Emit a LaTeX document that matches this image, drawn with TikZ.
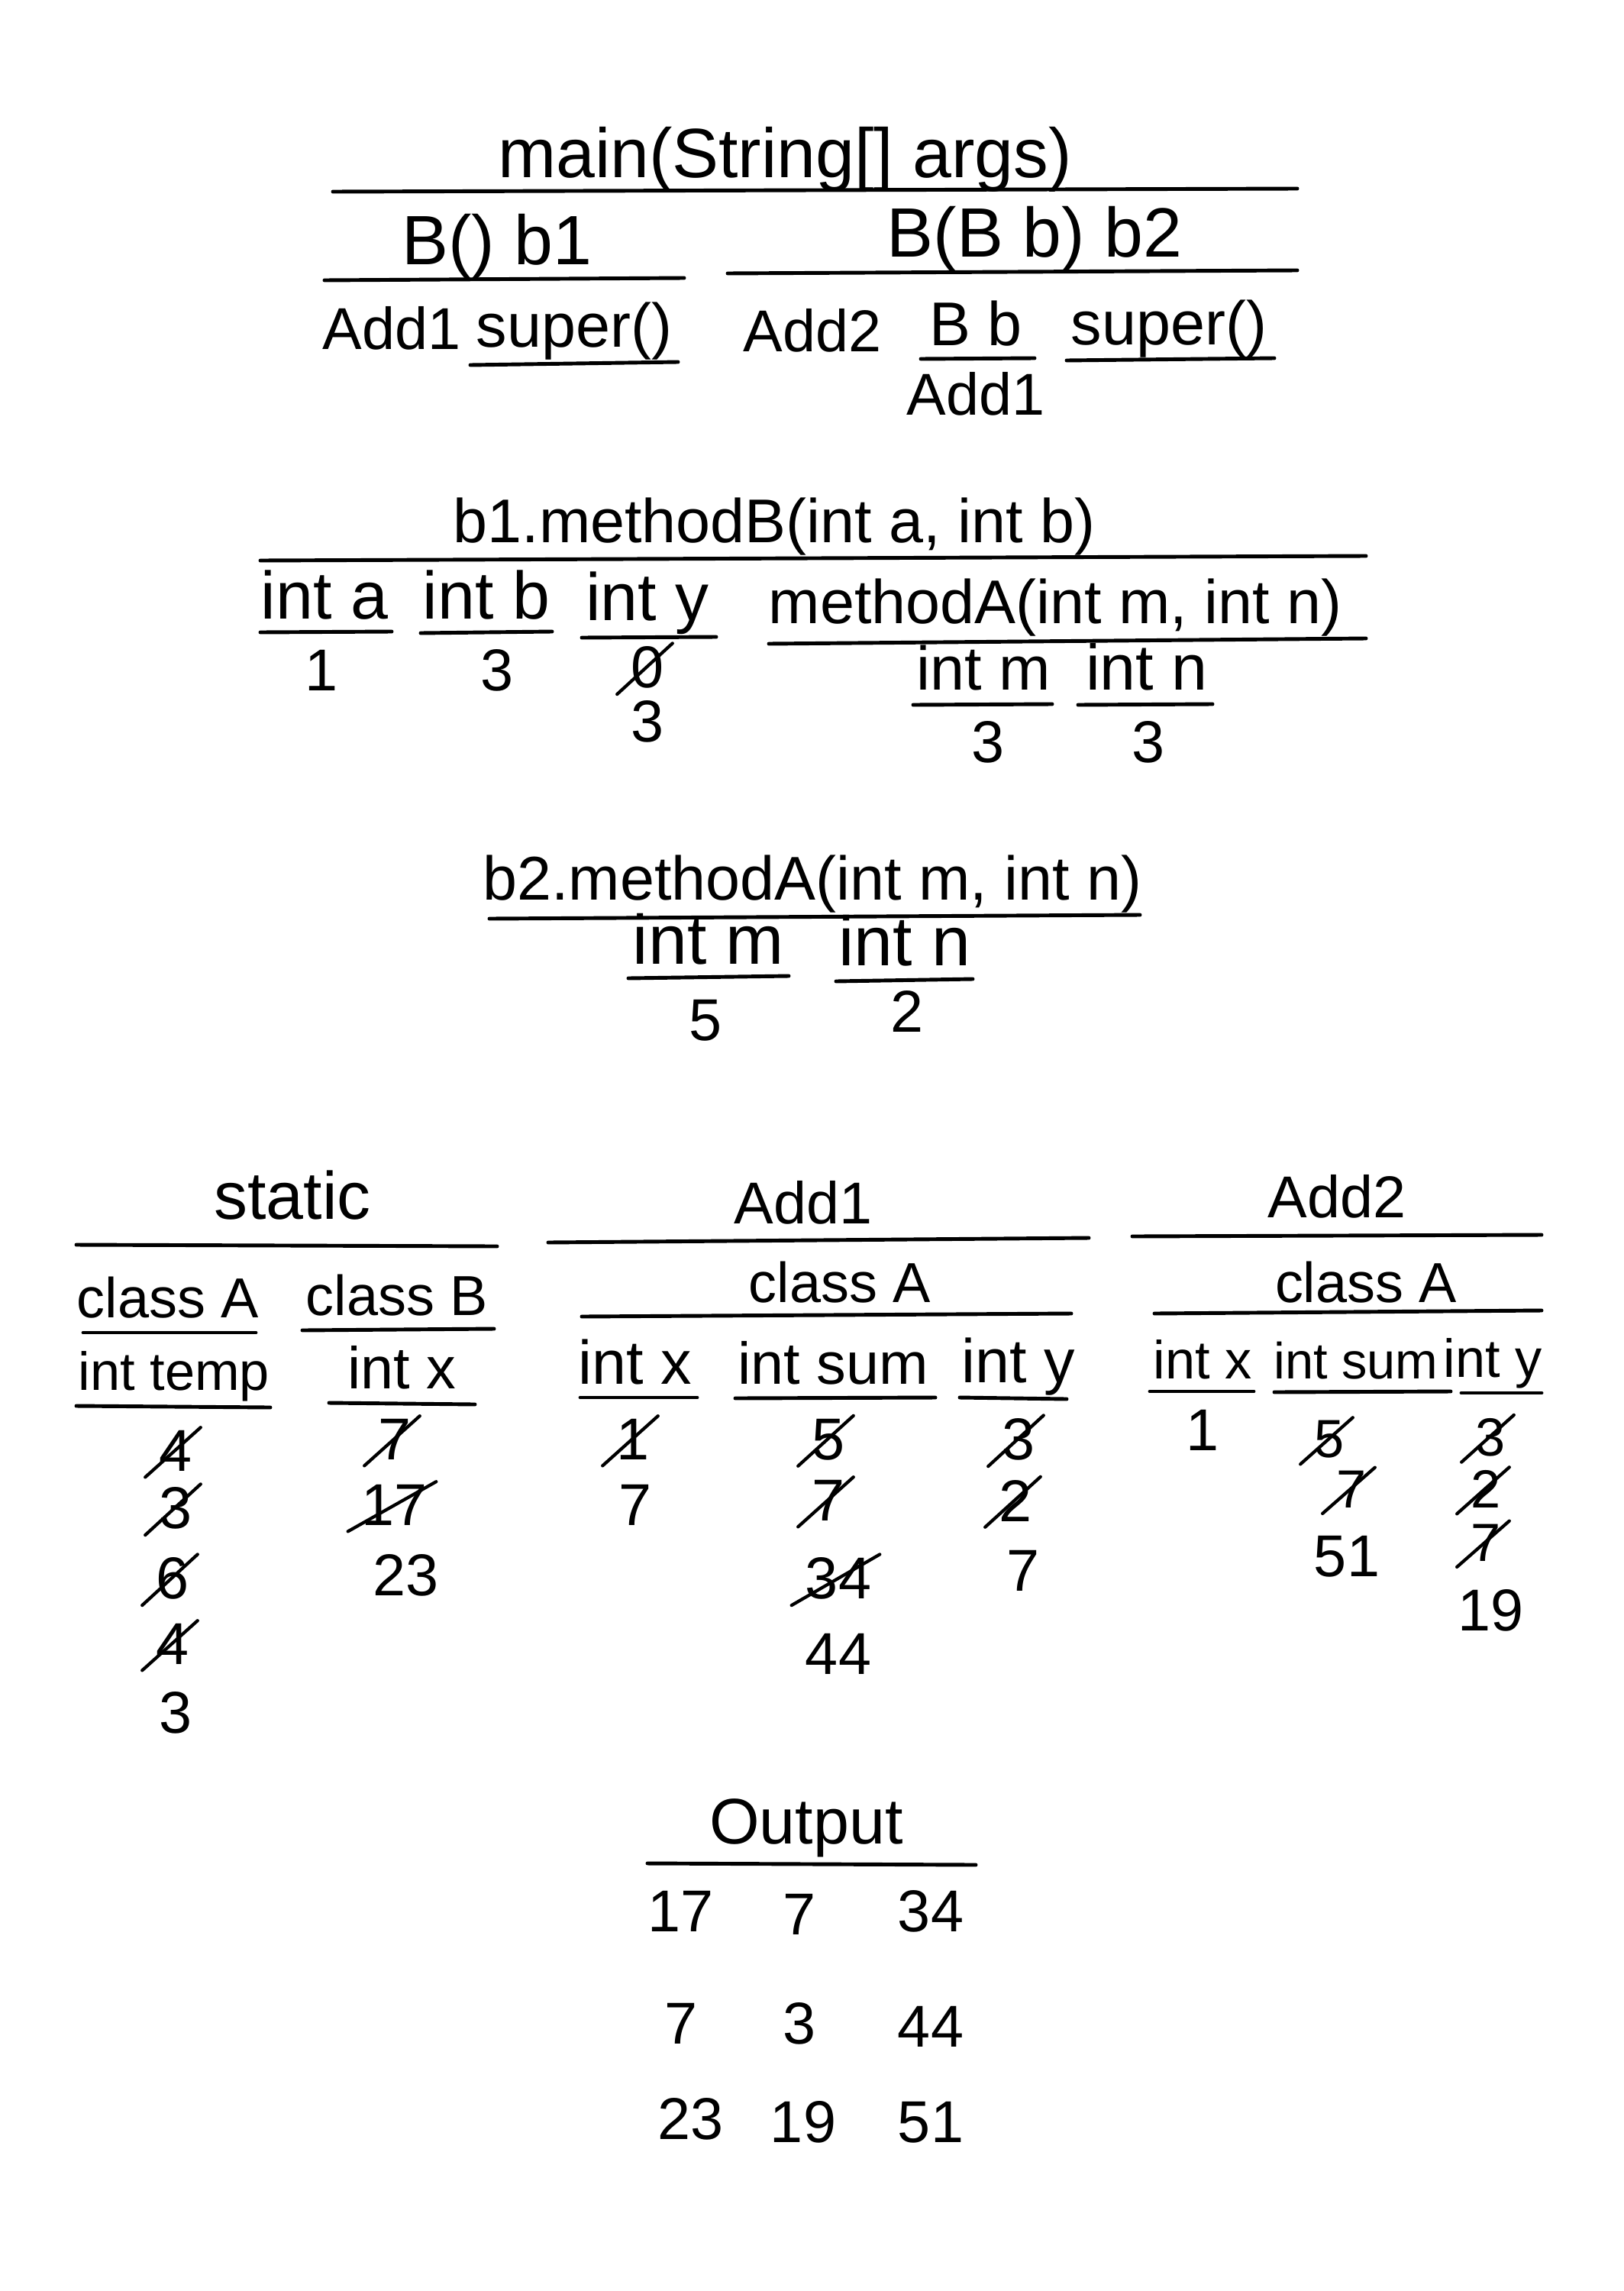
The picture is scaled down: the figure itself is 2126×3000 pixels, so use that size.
\documentclass[tikz,border=0pt]{standalone}
\usepackage{fontspec}
\setmainfont{Liberation Sans}
\newcommand\fsz[1]{\fontsize{#1}{#1}\selectfont}
\tikzset{
  lbl/.style={inner sep=1pt, anchor=base, font=\fsz{#1}},
  lbl/.default=23,
  num/.style={inner sep=1pt, font=\fsz{#1}},
  num/.default=22,
  strikeline/.style={line width=1.2pt, line cap=round},
  struck/.style={append after command={([xshift=-4pt,yshift=-1pt]\tikzlastnode.south west) edge[strikeline] ([xshift=2pt]\tikzlastnode.north east)}},
  rule/.style={line width=1.4pt, line cap=round},
}
\begin{document}
\begin{tikzpicture}[x=0.01cm,y=-0.01cm]
\useasboundingbox[fill=white] (0,0) rectangle (2126,3000);

% ---------- main ----------
\node[lbl=26] (main) at (1028,232) {main(String[] args)};
\draw[rule] (436,251) -- (1699,247);
\node[lbl=26] (bone) at (651,346) {B() b1};
\draw[rule] (425,367) -- (896,364);
\node[lbl=26] (btwo) at (1355,336) {B(B b) b2};
\draw[rule] (953,358) -- (1699,354);
\node[lbl=22] (addone) at (513,457) {Add1};
\node[lbl=23] (superone) at (752,454) {super()};
\draw[rule] (616,478) -- (888,474);
\node[lbl=22] (addtwo) at (1064,460) {Add2};
\node[lbl=23] (bb) at (1278,452) {B b};
\draw[rule] (1206,470) -- (1355,469);
\node[lbl=22] (addonebb) at (1278,543) {Add1};
\node[lbl=23] (supertwo) at (1531,451) {super()};
\draw[rule] (1397,472) -- (1669,469);

% ---------- b1.methodB ----------
\node[lbl=23] (mb) at (1014,710) {b1.methodB(int a, int b)};
\draw[rule] (341,734) -- (1789,728);
\node[lbl=25] (ia) at (425,810) {int a};
\draw[rule] (341,828) -- (513,827);
\node[lbl=25] (ib) at (637,810) {int b};
\draw[rule] (551,829) -- (723,827);
\node[lbl=25] (iy) at (848,812) {int y};
\draw[rule] (762,835) -- (938,834);
\node[lbl=23] (ma) at (1382,816) {methodA(int m, int n)};
\draw[rule] (1007,843) -- (1789,836);
\node[num] (va) at (421,878) {1};
\node[num] (vb) at (651,878) {3};
\node[num,struck] (vyone) at (848,874) {0};
\node[num] (vytwo) at (848,945) {3};
\node[lbl=23] (im) at (1288,903) {int m};
\draw[rule] (1196,923) -- (1378,922);
\node[lbl=24] (in) at (1502,903) {int n};
\draw[rule] (1412,923) -- (1588,922);
\node[num] (vm) at (1294,972) {3};
\node[num] (vn) at (1504,972) {3};

% ---------- b2.methodA ----------
\node[lbl=23] (mtwo) at (1064,1178) {b2.methodA(int m, int n)};
\draw[rule] (641,1203) -- (1493,1198);
\node[lbl=26] (imtwo) at (928,1262) {int m};
\draw[rule] (823,1281) -- (1033,1278);
\node[lbl=26] (intwo) at (1185,1264) {int n};
\draw[rule] (1095,1285) -- (1274,1282);
\node[num] (vmtwo) at (924,1336) {5};
\node[num] (vntwo) at (1188,1324) {2};

% ---------- static ----------
\node[lbl=25] (static) at (383,1596) {static};
\draw[rule] (100,1630) -- (651,1632);
\node[lbl=21] (sca) at (220,1725) {class A};
\draw[rule] (109,1745) -- (335,1745);
\node[lbl=21] (scb) at (520,1722) {class B};
\draw[rule] (396,1742) -- (647,1740);
\node[lbl=20] (stemp) at (228,1820) {int temp};
\draw[rule] (100,1841) -- (354,1843);
\node[lbl=22] (sx) at (526,1818) {int x};
\draw[rule] (431,1837) -- (622,1839);
\node[num,struck] (tone) at (230,1900) {4};
\node[num,struck] (ttwo) at (230,1975) {3};
\node[num,struck] (tthree) at (226,2067) {6};
\node[num,struck] (tfour) at (226,2153) {4};
\node[num] (tfive) at (230,2243) {3};
\node[num,struck] (xone) at (517,1885) {7};
\node[num,struck] (xtwo) at (517,1971) {17};
\node[num] (xthree) at (532,2063) {23};

% ---------- Add1 ----------
\node[lbl=22] (aone) at (1052,1602) {Add1};
\draw[rule] (718,1627) -- (1426,1621);
\node[lbl=21] (aoneca) at (1100,1705) {class A};
\draw[rule] (762,1724) -- (1403,1720);
\node[lbl=23] (aonex) at (832,1812) {int x};
\draw[rule] (760,1830) -- (913,1830);
\node[lbl=22] (aonesum) at (1091,1812) {int sum};
\draw[rule] (963,1831) -- (1225,1830);
\node[lbl=23] (aoney) at (1334,1810) {int y};
\draw[rule] (1257,1830) -- (1397,1832);
\node[num,struck] (aoxone) at (829,1885) {1};
\node[num] (aoxtwo) at (832,1971) {7};
\node[num,struck] (aosone) at (1085,1885) {5};
\node[num,struck] (aostwo) at (1085,1965) {7};
\node[num,struck] (aosthree) at (1098,2067) {34};
\node[num] (aosfour) at (1098,2166) {44};
\node[num,struck] (aoyone) at (1334,1885) {3};
\node[num,struck] (aoytwo) at (1330,1965) {2};
\node[num] (aoythree) at (1340,2057) {7};

% ---------- Add2 ----------
\node[lbl=22] (atwo) at (1751,1594) {Add2};
\draw[rule] (1483,1619) -- (2019,1617);
\node[lbl=21] (atwoca) at (1789,1705) {class A};
\draw[rule] (1512,1720) -- (2019,1716);
\node[lbl=20] (atwox) at (1575,1805) {int x};
\draw[rule] (1506,1822) -- (1642,1822);
\node[lbl=19] (atwosum) at (1776,1805) {int sum};
\draw[rule] (1669,1823) -- (1900,1822);
\node[lbl=20] (atwoy) at (1955,1803) {int y};
\draw[rule] (1914,1824) -- (2019,1824);
\node[num] (atxone) at (1575,1873) {1};
\node[num=20,struck] (atsone) at (1741,1885) {5};
\node[num=20,struck] (atstwo) at (1770,1950) {7};
\node[num] (atsthree) at (1764,2038) {51};
\node[num=20,struck] (atyone) at (1952,1882) {3};
\node[num=20,struck] (atytwo) at (1946,1950) {2};
\node[num=20,struck] (atythree) at (1946,2020) {7};
\node[num] (atyfour) at (1952,2109) {19};

% ---------- Output ----------
\node[lbl=24] (output) at (1056,2414) {Output};
\draw[rule] (848,2440) -- (1278,2442);
\node[num] (oaa) at (892,2503) {17};
\node[num] (oab) at (1047,2507) {7};
\node[num] (oac) at (1219,2503) {34};
\node[num] (oba) at (892,2650) {7};
\node[num] (obb) at (1047,2650) {3};
\node[num] (obc) at (1219,2654) {44};
\node[num] (oca) at (905,2775) {23};
\node[num] (ocb) at (1052,2779) {19};
\node[num] (occ) at (1219,2779) {51};
\end{tikzpicture}
\end{document}
